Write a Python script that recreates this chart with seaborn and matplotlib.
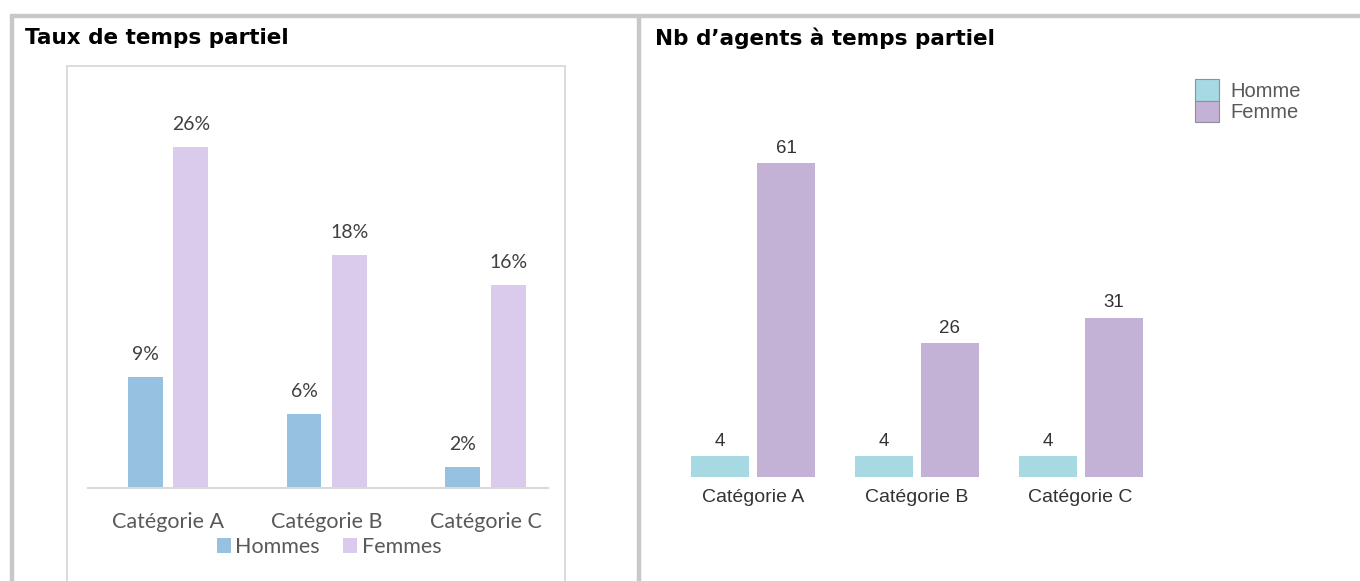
import matplotlib
matplotlib.use("Agg")
import matplotlib.pyplot as plt
import seaborn as sns
import pandas as pd
from matplotlib.lines import Line2D
from matplotlib.patches import Rectangle, Patch

# ---------------- data ----------------
categories = ["Catégorie A", "Catégorie B", "Catégorie C"]
taux_hommes = [8.6, 5.7, 1.6]      # % (displayed rounded: 9%, 6%, 2%)
taux_femmes = [26.4, 18.0, 15.7]   # % (displayed rounded: 26%, 18%, 16%)
nb_homme = [4, 4, 4]
nb_femme = [61, 26, 31]
left_series = ["Hommes", "Femmes"]
right_series = ["Homme", "Femme"]
title_left = "Taux de temps partiel"
title_right = "Nb d\u2019agents à temps partiel"

df_left = pd.DataFrame({
    "cat": categories * 2,
    "val": taux_hommes + taux_femmes,
    "sexe": [left_series[0]] * 3 + [left_series[1]] * 3,
})
df_right = pd.DataFrame({
    "cat": categories * 2,
    "val": nb_homme + nb_femme,
    "sexe": [right_series[0]] * 3 + [right_series[1]] * 3,
})

sns.set_theme(style="white")
plt.rcParams["font.family"] = ["DejaVu Sans"]

W, H = 1360, 581
fig = plt.figure(figsize=(13.6, 5.81), dpi=100)
fig.patch.set_facecolor("white")

def fx(px):
    return px / W

def fy(py):
    return 1 - py / H

# ---------------- frame ----------------
frame_col = "#C8C8C8"
fig.add_artist(Line2D([fx(10), fx(1360)], [fy(16), fy(16)], color=frame_col, lw=3.2,
                      transform=fig.transFigure, solid_capstyle="butt"))
fig.add_artist(Line2D([fx(12), fx(12)], [fy(14.5), fy(600)], color=frame_col, lw=3.2,
                      transform=fig.transFigure, solid_capstyle="butt"))
fig.add_artist(Line2D([fx(639), fx(639)], [fy(16), fy(600)], color=frame_col, lw=3.2,
                      transform=fig.transFigure, solid_capstyle="butt"))

# inner chart box (left)
fig.add_artist(Rectangle((fx(67), fy(600)), fx(565) - fx(67), fy(66) - fy(600),
                         transform=fig.transFigure, fill=False, edgecolor="#D9D9D9", lw=1.3))

# titles
fig.text(fx(25), fy(38), title_left, fontsize=15.5, fontweight="bold", color="#000000",
         va="center", ha="left", family=["DejaVu Sans"])
fig.text(fx(655), fy(38), title_right, fontsize=15.5, fontweight="bold", color="#000000",
         va="center", ha="left", family=["DejaVu Sans"])

# ---------------- left chart ----------------
axL = fig.add_axes([fx(88), fy(488), (548 - 88) / W, (488 - 100) / H])
left_pal = {left_series[0]: "#97C1E1", left_series[1]: "#DACAEC"}
sns.barplot(data=df_left, x="cat", y="val", hue="sexe", palette=left_pal, ax=axL,
            width=0.573, gap=0.231, saturation=1, linewidth=0, legend=False)
axL.set_ylim(0, 30)
axL.set_xlim(-0.504, 2.394)
axL.set_xlabel("")
axL.set_ylabel("")
axL.set_yticks([])
for s in ["top", "right", "left"]:
    axL.spines[s].set_visible(False)
axL.spines["bottom"].set_color("#D9D9D9")
axL.spines["bottom"].set_linewidth(1.5)
axL.tick_params(axis="x", length=0, pad=17.5, labelsize=15.5, labelcolor="#595959")
for lab in axL.get_xticklabels():
    lab.set_family(["Lato", "DejaVu Sans"])
axL.set_facecolor("none")
for cont, vals in zip(axL.containers, [taux_hommes, taux_femmes]):
    axL.bar_label(cont, labels=[f"{v:.0f}%" for v in vals], padding=10,
                  fontsize=14, color="#404040", family=["Lato", "DejaVu Sans"])

handlesL = [Patch(facecolor=left_pal[s], edgecolor="none") for s in left_series]
legL = fig.legend(handlesL, left_series, loc="center", bbox_to_anchor=(fx(329), fy(547)),
                  ncol=2, frameon=False, handlelength=0.65, handleheight=0.65,
                  handletextpad=0.2, columnspacing=1.1, borderpad=0,
                  prop={"family": ["Lato", "DejaVu Sans"], "size": 15.5})
for t in legL.get_texts():
    t.set_color("#595959")

# ---------------- right chart ----------------
axR = fig.add_axes([fx(670.5), fy(477), 492 / W, 360 / H])
right_pal = {right_series[0]: "#A7D9E2", right_series[1]: "#C4B1D6"}
sns.barplot(data=df_right, x="cat", y="val", hue="sexe", palette=right_pal, ax=axR,
            width=0.806, gap=0.122, saturation=1, linewidth=0, legend=False)
axR.set_ylim(0, 70)
axR.set_xlim(-0.504, 2.5)
axR.set_xlabel("")
axR.set_ylabel("")
axR.set_yticks([])
for s in ["top", "right", "left", "bottom"]:
    axR.spines[s].set_visible(False)
axR.tick_params(axis="x", length=0, pad=9, labelsize=14, labelcolor="#333333")
for lab in axR.get_xticklabels():
    lab.set_family(["Liberation Sans", "DejaVu Sans"])
axR.set_facecolor("none")
for cont, vals in zip(axR.containers, [nb_homme, nb_femme]):
    axR.bar_label(cont, labels=[f"{v:d}" for v in vals], padding=4.5,
                  fontsize=13.5, color="#333333", family=["Liberation Sans", "DejaVu Sans"])

handlesR = [Patch(facecolor=right_pal[s], edgecolor="#8E8E9E", linewidth=0.8) for s in right_series]
legR = fig.legend(handlesR, right_series, loc="upper left", bbox_to_anchor=(fx(1195), fy(79)),
                  ncol=1, frameon=False, handlelength=1.2, handleheight=1.27,
                  handletextpad=0.55, labelspacing=0.0, borderpad=0, borderaxespad=0,
                  prop={"family": ["Liberation Sans", "DejaVu Sans"], "size": 14.5})
for t in legR.get_texts():
    t.set_color("#595959")

fig.savefig("out.png", dpi=100, facecolor="white")
